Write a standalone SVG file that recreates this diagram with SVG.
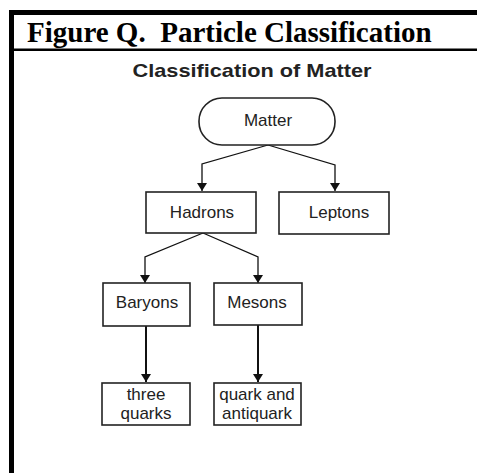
<svg xmlns="http://www.w3.org/2000/svg" width="477" height="473" viewBox="0 0 477 473">
<defs>
<style>
.box{fill:#fff;stroke:#222;stroke-width:1.6}
.lbl{font-family:"Liberation Sans",Arial,sans-serif;font-size:17px;fill:#222;text-anchor:middle}
.con{fill:none;stroke:#111;stroke-width:1.3}
.con2{fill:none;stroke:#111;stroke-width:2}
</style>
<marker id="ah" viewBox="0 0 10 10" refX="10" refY="5" markerWidth="8" markerHeight="10" markerUnits="userSpaceOnUse" orient="auto-start-reverse" preserveAspectRatio="none">
<path d="M0,0 L10,5 L0,10 Z" fill="#111"/>
</marker>
</defs>
<rect width="477" height="473" fill="#fff"/>
<rect x="9" y="10" width="468" height="5" fill="#000"/>
<rect x="9" y="10" width="5" height="463" fill="#000"/>
<rect x="9" y="48.5" width="468" height="2.5" fill="#000"/>
<text x="27" y="42" xml:space="preserve" font-family="'Liberation Serif','Times New Roman',serif" font-weight="bold" font-size="29" fill="#000">Figure Q.  Particle Classification</text>
<text x="252" y="77" font-family="'Liberation Sans',Arial,sans-serif" font-weight="bold" font-size="19" fill="#222" text-anchor="middle" textLength="239" lengthAdjust="spacingAndGlyphs">Classification of Matter</text>
<g id="connectors">
<path class="con" d="M268,145 L202,164 L202,191" marker-end="url(#ah)"/>
<path class="con" d="M268,145 L335,165 L335,191" marker-end="url(#ah)"/>
<path class="con" d="M203,233 L145,257 L145,283" marker-end="url(#ah)"/>
<path class="con" d="M203,233 L258,257 L258,283" marker-end="url(#ah)"/>
<path class="con2" d="M146,326 L146,382" marker-end="url(#ah)"/>
<path class="con2" d="M258,325 L258,382" marker-end="url(#ah)"/>
</g>
<g id="matter">
<rect class="box" x="199" y="98" width="136" height="47" rx="23" ry="23"/>
<text class="lbl" x="268" y="126" font-size="16">Matter</text>
</g>
<g id="hadrons">
<rect class="box" x="146" y="192" width="110" height="41"/>
<text class="lbl" x="202" y="218">Hadrons</text>
</g>
<g id="leptons">
<rect class="box" x="279" y="192" width="110" height="42"/>
<text class="lbl" x="339" y="218">Leptons</text>
</g>
<g id="baryons">
<rect class="box" x="103" y="283" width="87" height="43"/>
<text class="lbl" x="147" y="308">Baryons</text>
</g>
<g id="mesons">
<rect class="box" x="214" y="283" width="88" height="42"/>
<text class="lbl" x="257" y="308">Mesons</text>
</g>
<g id="three-quarks">
<rect class="box" x="102" y="383" width="88" height="42"/>
<text class="lbl" x="146" y="399.5">three</text>
<text class="lbl" x="146" y="418.5">quarks</text>
</g>
<g id="quark-antiquark">
<rect class="box" x="214" y="383" width="87" height="42"/>
<text class="lbl" x="257" y="399.5">quark and</text>
<text class="lbl" x="257" y="418.5">antiquark</text>
</g>
</svg>
